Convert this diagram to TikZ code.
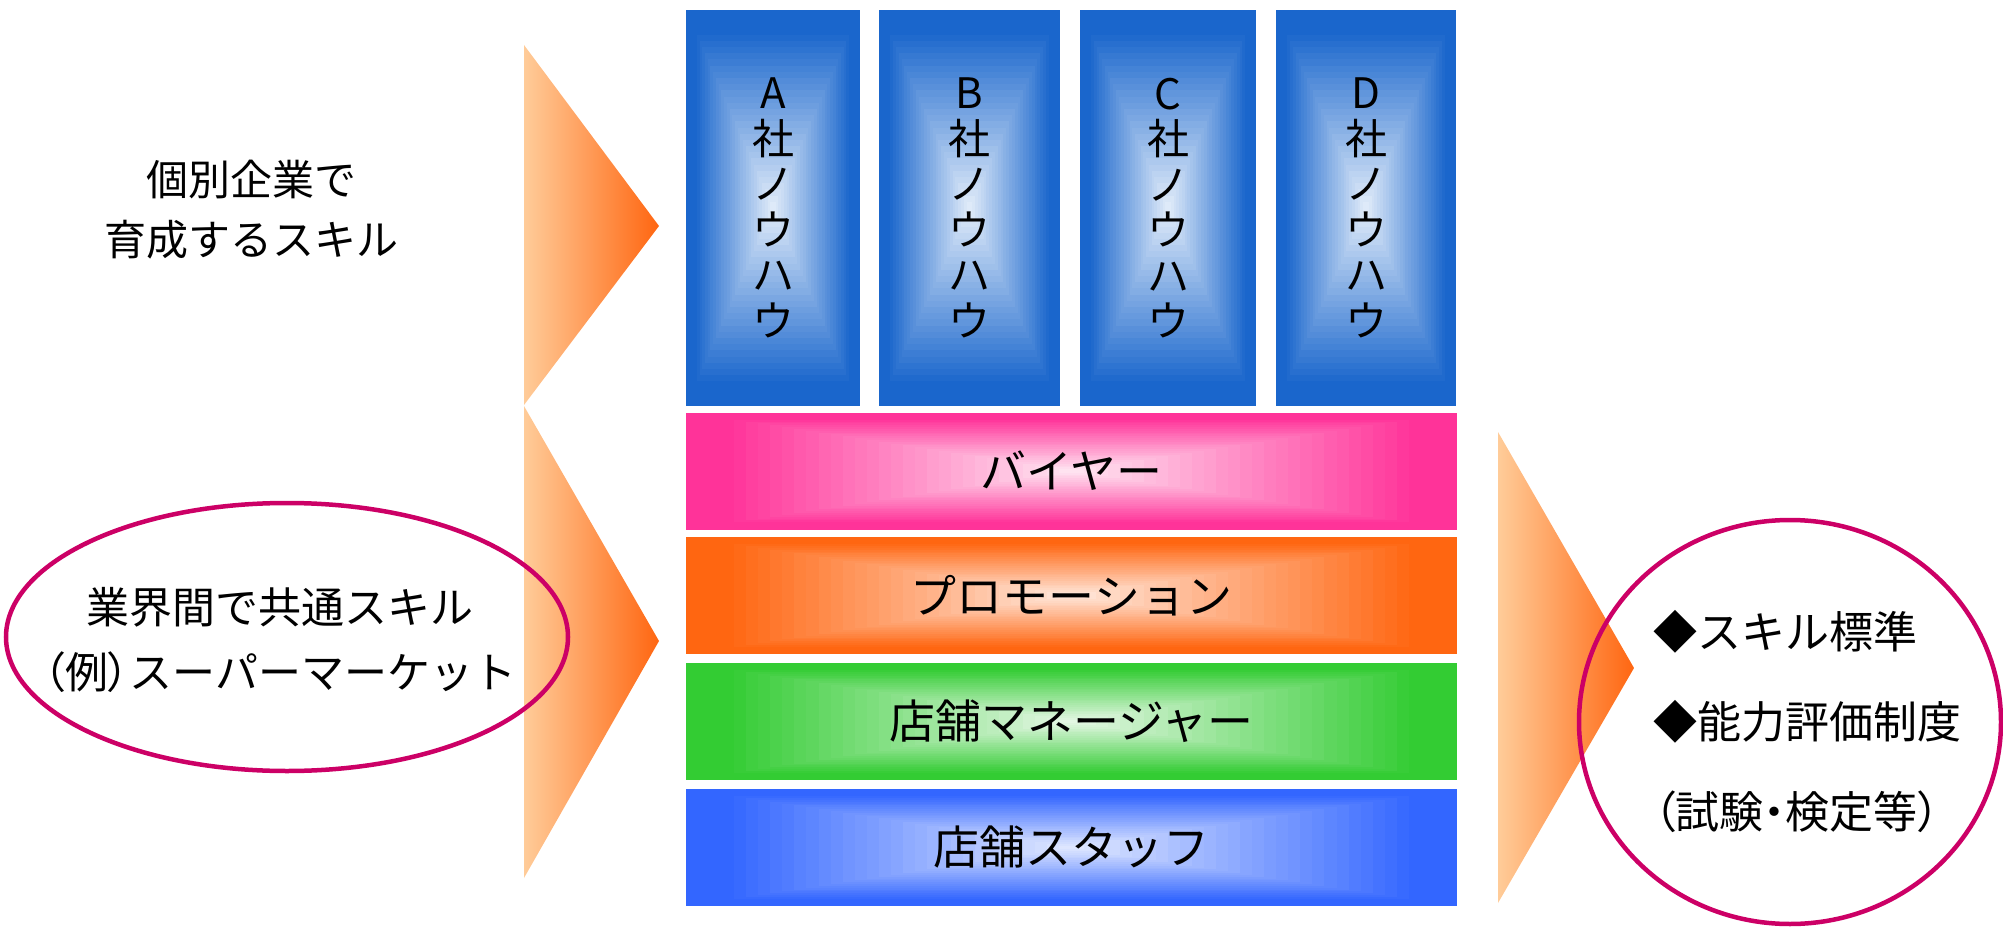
\documentclass[tikz,border=0pt]{standalone}
\usepackage{fontspec}
\setmainfont{Noto Sans CJK JP}
\newfontfamily\paltfont{Noto Sans CJK JP}[RawFeature=+palt]
\usetikzlibrary{calc,shapes.geometric}
\definecolor{colblue}{HTML}{1A66CC}
\definecolor{colbluec}{HTML}{E4EEFA}
\definecolor{buyer}{HTML}{FF3399}
\definecolor{buyerc}{HTML}{FFE8F3}
\definecolor{promo}{HTML}{FF6611}
\definecolor{promoc}{HTML}{FFE9DE}
\definecolor{mgr}{HTML}{33CC33}
\definecolor{mgrc}{HTML}{E8F8E8}
\definecolor{staff}{HTML}{3366FF}
\definecolor{staffc}{HTML}{E3EAFF}
\definecolor{peach}{HTML}{FFCC99}
\definecolor{peachmid}{HTML}{FEB888}
\definecolor{arrorange}{HTML}{FF6611}
\definecolor{ring}{HTML}{CC0066}
\tikzset{
  rgrad/.style 2 args={path picture={
    \foreach \ii in {0,...,32}{
      \pgfmathsetmacro\gf{1-\ii/32}
      \pgfmathtruncatemacro\gp{min(100,100*\gf/0.9)}
      \fill[#1!\gp!#2] ($(path picture bounding box.center)!\gf!(path picture bounding box.south west)$) rectangle ($(path picture bounding box.center)!\gf!(path picture bounding box.north east)$);
    }}},
  colbox/.style={inner sep=0pt, minimum height=396pt, align=center, font=\fontsize{42}{45.5}\selectfont},
  barbox/.style={inner sep=0pt, minimum width=771pt, minimum height=117pt, font=\fontsize{46}{50}\selectfont},
  arrowshade/.style={left color=peach, middle color=peachmid, right color=arrorange},
  ringline/.style={draw=ring, line width=4.5pt},
}
\begin{document}
\begin{tikzpicture}[x=1pt,y=-1pt]
\useasboundingbox (0,0) rectangle (2003,928);
% arrows
\shade[arrowshade] (524,45) -- (659,226) -- (524,405) -- cycle;
\shade[arrowshade] (524,406) -- (659,641) -- (524,878) -- cycle;
\shade[arrowshade] (1498,432) -- (1634,668) -- (1498,903) -- cycle;
% company columns
\node[colbox, minimum width=174pt, rgrad={colblue}{colbluec}] (colA) at (773,208) {A\\社\\ノ\\ウ\\ハ\\ウ};
\node[colbox, minimum width=181pt, rgrad={colblue}{colbluec}] (colB) at (969.5,208) {B\\社\\ノ\\ウ\\ハ\\ウ};
\node[colbox, minimum width=176pt, rgrad={colblue}{colbluec}] (colC) at (1168,208) {C\\社\\ノ\\ウ\\ハ\\ウ};
\node[colbox, minimum width=180pt, rgrad={colblue}{colbluec}] (colD) at (1366,208) {D\\社\\ノ\\ウ\\ハ\\ウ};
% bars
\node[barbox, rgrad={buyer}{buyerc}] (buyer) at (1071.5,471) {バイヤー};
\node[barbox, rgrad={promo}{promoc}] (promo) at (1071.5,595.5) {プロモーション};
\node[barbox, rgrad={mgr}{mgrc}] (mgr) at (1071.5,721.5) {店舗マネージャー};
\node[barbox, rgrad={staff}{staffc}] (staff) at (1071.5,847.5) {店舗スタッフ};
% left texts
\node[align=center, font=\fontsize{42}{60}\selectfont] (indiv) at (251,210) {個別企業で\\育成するスキル};
\node[ringline, ellipse, minimum width=562pt, minimum height=268pt] (common) at (287,637) {};
\node[align=center, font=\fontsize{43}{65}\selectfont] (commontext) at (280,640) {業界間で共通スキル\\{\paltfont （例）}スーパーマーケット};
% right circle
\node[ringline, ellipse, minimum width=422pt, minimum height=404pt] (std) at (1790,722) {};
\node[anchor=west, align=left, font=\fontsize{44}{90}\selectfont] (stdtext) at (1650,722) {◆スキル標準\\◆能力評価制度\\{\paltfont （試験・検定等）}};
\end{tikzpicture}
\end{document}
